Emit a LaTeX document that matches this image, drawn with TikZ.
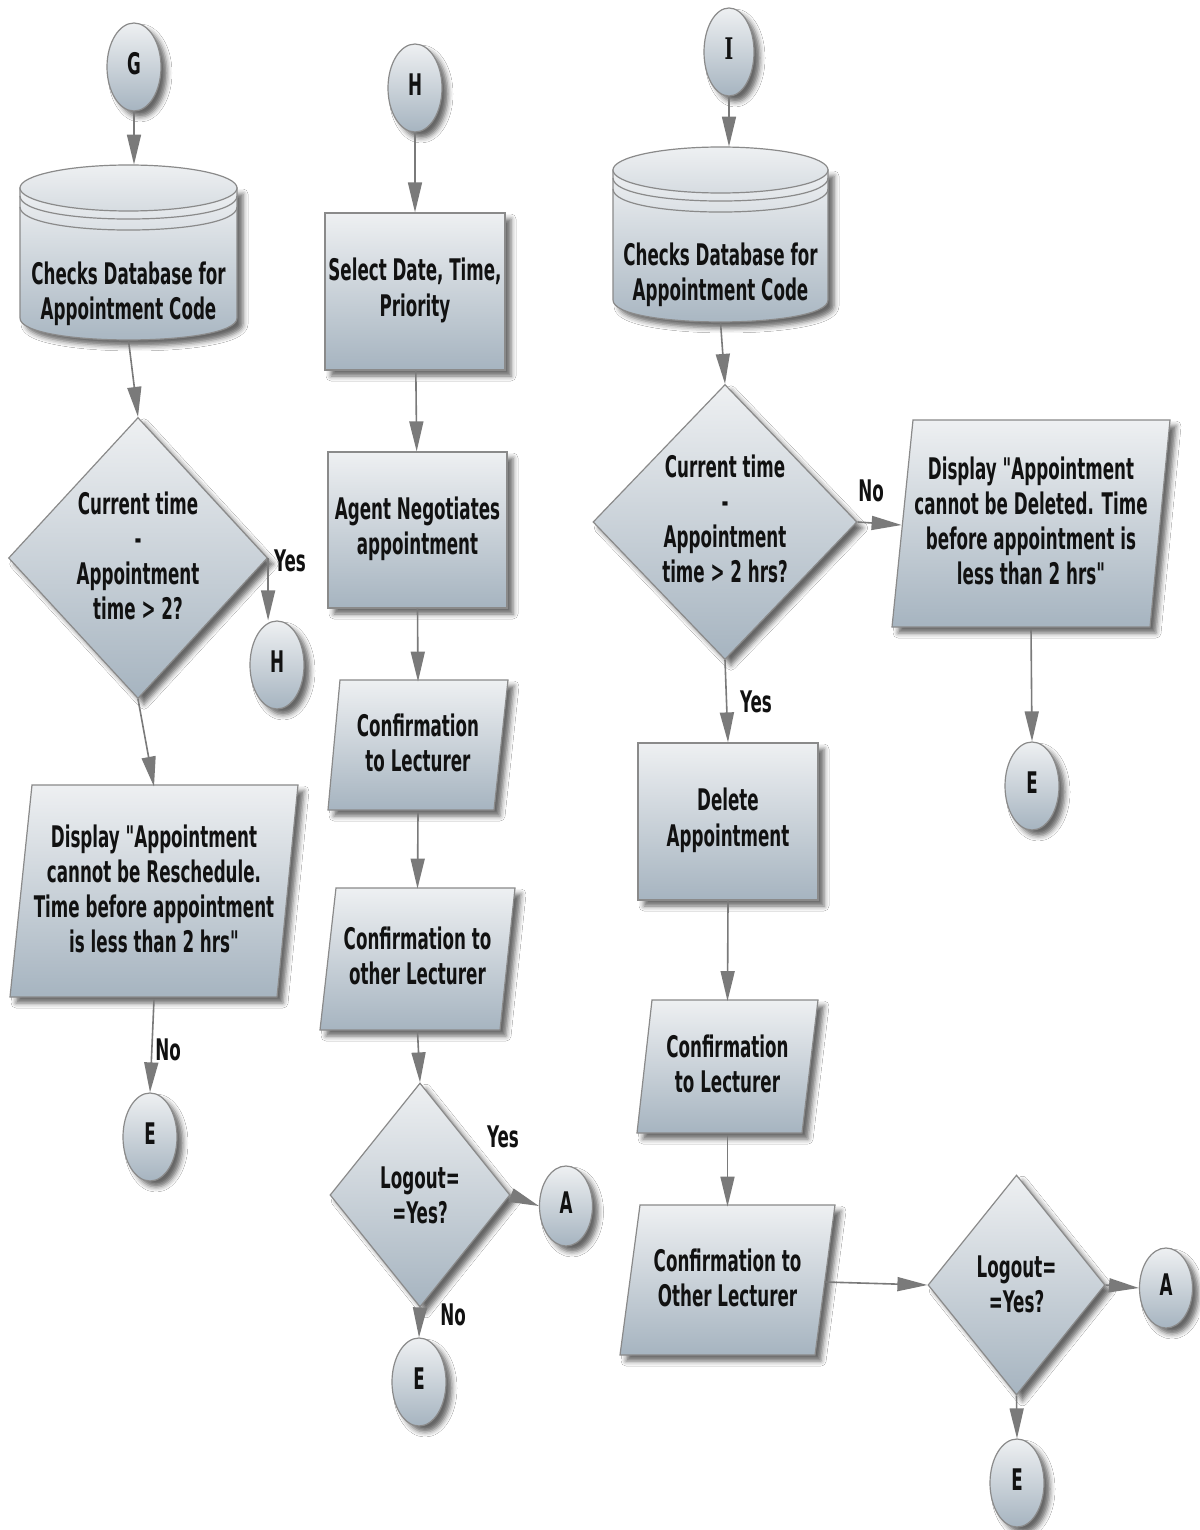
\documentclass[tikz,border=0pt]{standalone}
\usepackage{graphicx}
\usepackage{fontspec}
\setmainfont{DejaVu Sans Condensed}[Ligatures=TeXOff]
\newfontfamily\serifI{DejaVu Serif}
\usetikzlibrary{shapes.geometric,arrows.meta,shadows.blur}
\definecolor{topc}{HTML}{EEF0F2}
\definecolor{midc}{HTML}{D6DCE1}
\definecolor{botc}{HTML}{A6B4C0}
\definecolor{bordc}{HTML}{8A8A8A}
\definecolor{arrc}{HTML}{7A7A7A}
\definecolor{txtc}{HTML}{111111}
\newcommand{\stx}[1]{\scalebox{1}[1.6]{\begin{tabular}{@{}c@{}}#1\end{tabular}}}
\tikzset{
  base/.style={draw=bordc, line width=0.6pt, top color=topc, middle color=midc, bottom color=botc,
    blur shadow={shadow xshift=3pt, shadow yshift=-3pt, shadow blur radius=2.5pt, shadow opacity=60}},
  flat/.style={draw=bordc, line width=0.6pt, top color=topc, bottom color=midc},
  rim/.style={draw=bordc, line width=0.6pt},
  txt/.style={inner sep=0pt, text=txtc, font=\fontsize{9.3}{11}\selectfont\bfseries},
  conn/.style={ellipse, base, txt, minimum width=27pt, minimum height=44pt},
  connA/.style={conn, minimum width=26.5pt, minimum height=40pt},
  box/.style={rectangle, base, txt},
  dia/.style={diamond, base, inner sep=0pt},
  hold/.style={rectangle, txt},
  arr/.style={draw=arrc, line width=0.8pt, -{Triangle[length=15pt,width=7pt,fill=arrc]}}
}
\begin{document}
\begin{tikzpicture}[x=0.5pt, y=-0.5pt]
\fill[white] (0,0) rectangle (1199,1530);
\useasboundingbox (0,0) rectangle (1199,1530);

% ---------------- left column ----------------
\node[conn] (G) at (134,67) {\stx{G}};
\path[base] (20,188) -- (20,318) .. controls (20,347.3) and (237,347.3) .. (237,318) -- (237,188) -- cycle;
\draw[rim] (20,196) .. controls (20,226.7) and (237,226.7) .. (237,196);
\draw[rim] (20,207) .. controls (20,237.7) and (237,237.7) .. (237,207);
\path[flat] (128.5,188) ellipse [x radius=54.25pt, y radius=11.5pt];
\node[hold, minimum width=108.5pt, minimum height=87.5pt] (cG) at (128.5,252.5) {};
\node[txt] (tG) at (128.5,295) {\stx{Checks Database for\\Appointment Code}};

\node[dia, minimum width=129.5pt, minimum height=140.5pt] (d1) at (138,558) {};
\node[txt] (td1) at (138,560) {\stx{Current time\\-\\Appointment\\time > 2?}};
\node[conn] (H2) at (277,665) {\stx{H}};
\node[txt] (yes1) at (290,564) {\stx{Yes}};

\path[base] (32,785) -- (298,785) -- (277,997) -- (10,997) -- cycle;
\node[hold, minimum width=144pt, minimum height=106pt] (P1) at (154,893)
  {\stx{Display "Appointment\\cannot be Reschedule.\\Time before appointment\\is less than 2 hrs"}};
\node[conn] (E1) at (150,1137) {\stx{E}};
\node[txt] (no1) at (168,1053) {\stx{No}};

\draw[arr] (G.south) -- (G.south |- cG.north);
\draw[arr] (cG.south) -- (d1.north);
\draw[arr] (d1.east) -- (d1.east |- H2.north);
\draw[arr] (d1.south) -- (P1.north);
\draw[arr] (P1.south) -- (E1.north);

% ---------------- middle column ----------------
\node[conn] (H) at (415,88) {\stx{H}};
\node[box, minimum width=90pt, minimum height=78.5pt] (R1) at (415,291.5) {\stx{Select Date, Time,\\Priority}};
\node[box, minimum width=89.5pt, minimum height=78pt] (R2) at (417.5,530) {\stx{Agent Negotiates\\appointment}};
\path[base] (340,680) -- (508,680) -- (494,810) -- (328,810) -- cycle;
\node[hold, minimum width=90pt, minimum height=65pt] (P2) at (418,747) {\stx{Confirmation\\to Lecturer}};
\path[base] (336,888) -- (515,888) -- (500,1030) -- (320,1030) -- cycle;
\node[hold, minimum width=97.5pt, minimum height=71pt] (P3) at (417.5,960) {\stx{Confirmation to\\other Lecturer}};
\node[dia, minimum width=90pt, minimum height=112pt] (d2) at (420,1195) {};
\node[txt] (td2) at (420,1199) {\stx{Logout=\\=Yes?}};
\node[connA] (A1) at (566,1206) {\stx{A}};
\node[conn] (E2) at (419,1382) {\stx{E}};
\node[txt] (yes2) at (503,1140) {\stx{Yes}};
\node[txt] (no2) at (453,1318) {\stx{No}};

\draw[arr] (H) -- (R1);
\draw[arr] (R1) -- (R2);
\draw[arr] (R2.south) -- (P2.north);
\draw[arr] (P2.south) -- (P3.north);
\draw[arr] (P3.south) -- (d2.north);
\draw[arr] (d2.east) -- (A1.west);
\draw[arr] (d2.south) -- (E2.north);

% ---------------- right column ----------------
\node[conn, minimum width=25pt] (I) at (729,52) {\stx{\serifI\bfseries I}};
\path[base] (613,170) -- (613,300) .. controls (613,329.3) and (828,329.3) .. (828,300) -- (828,170) -- cycle;
\draw[rim] (613,178) .. controls (613,208.7) and (828,208.7) .. (828,178);
\draw[rim] (613,189) .. controls (613,219.7) and (828,219.7) .. (828,189);
\path[flat] (720.5,170) ellipse [x radius=53.75pt, y radius=11.5pt];
\node[hold, minimum width=107.5pt, minimum height=87.5pt] (cI) at (720.5,234.5) {};
\node[txt] (tI) at (720.5,276) {\stx{Checks Database for\\Appointment Code}};

\node[dia, minimum width=132pt, minimum height=137.5pt] (dI) at (725,522) {};
\node[txt] (tdI) at (725,523) {\stx{Current time\\-\\Appointment\\time > 2 hrs?}};
\node[txt] (no3) at (871,494) {\stx{No}};

\path[base] (913,420) -- (1170,420) -- (1150,627) -- (892,627) -- cycle;
\node[hold, minimum width=139pt, minimum height=103.5pt] (P4) at (1031,525)
  {\stx{Display "Appointment\\cannot be Deleted. Time\\before appointment is\\less than 2 hrs"}};
\node[conn] (E3) at (1032,786) {\stx{E}};

\node[box, minimum width=90pt, minimum height=78.5pt] (R3) at (728,821.5) {\stx{Delete\\Appointment}};
\node[txt] (yes3) at (756,705) {\stx{Yes}};
\path[base] (652,1000) -- (818,1000) -- (802,1133) -- (637,1133) -- cycle;
\node[hold, minimum width=90.5pt, minimum height=66.5pt] (P5) at (727.5,1068) {\stx{Confirmation\\to Lecturer}};
\path[base] (640,1205) -- (835,1205) -- (815,1355) -- (620,1355) -- cycle;
\node[hold, minimum width=107.5pt, minimum height=75pt] (P6) at (727.5,1282) {\stx{Confirmation to\\Other Lecturer}};
\node[dia, minimum width=88.5pt, minimum height=110pt] (d3) at (1016.5,1285) {};
\node[txt] (td3) at (1016.5,1288) {\stx{Logout=\\=Yes?}};
\node[connA] (A2) at (1166,1288) {\stx{A}};
\node[conn] (E4) at (1017,1483) {\stx{E}};

\draw[arr] (I.south) -- (I.south |- cI.north);
\draw[arr] (cI.south) -- (dI.north);
\draw[arr] (dI.east) -- ([xshift=5pt]P4.west);
\draw[arr] (P4.south) -- (E3.north);
\draw[arr] (dI.south) -- (R3.north);
\draw[arr] (R3.south) -- (P5.north);
\draw[arr] (P5.south) -- (P6.north);
\draw[arr] ([xshift=-5pt]P6.east) -- (d3.west);
\draw[arr] (d3.east) -- (A2.west);
\draw[arr] (d3.south) -- (E4.north);
\end{tikzpicture}
\end{document}
